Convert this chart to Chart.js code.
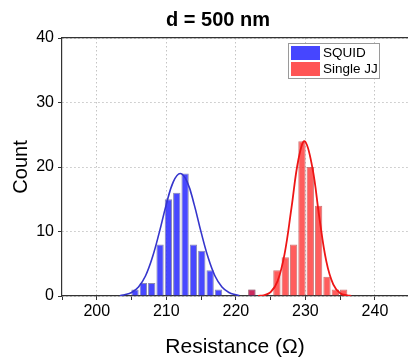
<!DOCTYPE html>
<html>
<head>
<meta charset="utf-8">
<script src="https://cdn.jsdelivr.net/npm/chart.js@4/dist/chart.umd.min.js"></script>
<style>
html,body{margin:0;padding:0;background:#fff;}
#wrap{width:408px;height:360px;}
</style>
</head>
<body>
<div id="wrap"><canvas id="c" width="408" height="360"></canvas></div>
<script>
// ---- data ----
const chartTitle = "d = 500 nm";
const xTitle = "Resistance (Ω)";
const yTitle = "Count";
const seriesNames = ["SQUID", "Single JJ"];

const squidBins   = [205.5, 206.7, 207.9, 209.1, 210.3, 211.5, 212.7, 213.9, 215.1, 216.3, 217.5, 222.3];
const squidCounts = [1, 2, 2, 8, 15, 16, 19, 8, 7, 4, 1, 1];

const jjBins   = [222.3, 225.9, 227.1, 228.3, 229.5, 230.7, 231.9, 233.1, 234.3, 235.5];
const jjCounts = [1, 4, 6, 8, 24, 20, 14, 3, 1, 1];

// fitted curves, points
const squidFitX = [203.3, 204, 205, 206, 207, 208, 209, 210, 211, 212, 213, 214, 215, 216, 217, 218, 219, 220, 220.5];
const squidFitY = [0.05, 0.19, 0.55, 1.4, 3.1, 6.0, 9.9, 14.2, 17.7, 19, 17.7, 14.2, 9.9, 6.0, 3.1, 1.4, 0.55, 0.19, 0.08];

const jjFitX = [223.2, 224, 225, 226, 227, 228, 229, 229.9, 231, 232, 233, 234, 235, 236, 236.6];
const jjFitY = [0.03, 0.11, 0.59, 2.3, 6.5, 13.7, 21.2, 24, 19.9, 12.2, 5.4, 1.8, 0.43, 0.09, 0.02];

const xMin = 195, xMax = 244.75, xStep = 5, xLabelStep = 10;
const yMin = 0, yMax = 40, yStep = 10;

const pairs = (xs, ys) => xs.map((x, i) => ({x: x, y: ys[i]}));

const FONT = "'Liberation Sans', Arial, sans-serif";

const titlePlugin = {
  id: 'figTitle',
  afterDraw(chart) {
    const ctx = chart.ctx;
    ctx.save();
    ctx.font = "bold 20px " + FONT;
    ctx.fillStyle = "#000";
    ctx.textAlign = "center";
    ctx.textBaseline = "alphabetic";
    ctx.fillText(chartTitle, 218, 26);
    ctx.restore();
  }
};

const legendPlugin = {
  id: 'boxLegend',
  afterDraw(chart) {
    const ctx = chart.ctx;
    const items = [
      {name: seriesNames[0], fill: 'rgba(70,70,255,1)'},
      {name: seriesNames[1], fill: 'rgba(255,85,85,1)'}
    ];
    ctx.save();
    ctx.fillStyle = '#fff';
    ctx.fillRect(288.5, 43.5, 91, 35);
    ctx.strokeStyle = '#9a9a9a';
    ctx.lineWidth = 1;
    ctx.strokeRect(288.5, 43.5, 91, 35);
    ctx.font = "13.5px " + FONT;
    ctx.textBaseline = 'middle';
    ctx.textAlign = 'left';
    items.forEach((it, i) => {
      const y = 46 + i * 16;
      ctx.fillStyle = it.fill;
      ctx.fillRect(291, y, 29, 14);
      ctx.fillStyle = '#000';
      ctx.fillText(it.name, 323, y + 7.5);
    });
    ctx.restore();
  }
};

new Chart(document.getElementById('c'), {
  type: 'bar',
  data: {
    datasets: [
      {
        type: 'line', label: seriesNames[0] + ' fit', data: pairs(squidFitX, squidFitY),
        borderColor: '#3535cc', borderWidth: 1.6, pointRadius: 0, tension: 0.4, fill: false, order: 0
      },
      {
        type: 'line', label: seriesNames[1] + ' fit', data: pairs(jjFitX, jjFitY),
        borderColor: '#ee1515', borderWidth: 1.8, pointRadius: 0, tension: 0.4, fill: false, order: 0
      },
      {
        label: seriesNames[1], data: pairs(jjBins, jjCounts),
        backgroundColor: 'rgba(255,30,30,0.72)', borderColor: 'rgba(190,80,80,0.75)', borderWidth: 1,
        grouped: false, barPercentage: 1, categoryPercentage: 0.88, order: 2
      },
      {
        label: seriesNames[0], data: pairs(squidBins, squidCounts),
        backgroundColor: 'rgba(45,45,255,0.87)', borderColor: 'rgba(100,100,150,0.75)', borderWidth: 1,
        grouped: false, barPercentage: 1, categoryPercentage: 0.88, order: 3
      }
    ]
  },
  plugins: [titlePlugin, legendPlugin],
  options: {
    responsive: false,
    animation: false,
    layout: {padding: {top: 38, right: 0, left: 0, bottom: 0}},
    plugins: {legend: {display: false}, title: {display: false}, tooltip: {enabled: false}},
    scales: {
      x: {
        type: 'linear', position: 'bottom', min: xMin, max: xMax, offset: false,
        afterFit: s => { s.height = 64; },
        ticks: {
          stepSize: xStep, autoSkip: false, maxRotation: 0, includeBounds: false,
          font: {family: FONT, size: 16}, color: '#000', padding: 2,
          callback: v => (v % xLabelStep === 0 ? String(v) : '')
        },
        grid: {
          offset: false,
          color: c => (c.tick && c.tick.value % xLabelStep === 0 ? '#c4c4c4' : 'rgba(0,0,0,0)'),
          tickColor: c => (c.tick && c.tick.value % xStep === 0 ? '#333' : 'rgba(0,0,0,0)'),
          tickLength: 4, lineWidth: 1
        },
        border: {display: true, color: '#333', width: 1.2, dash: [1.5, 2.5]},
        title: {display: true, text: xTitle, font: {family: FONT, size: 21}, color: '#000', padding: {top: 0, bottom: 0}}
      },
      x2: {
        type: 'linear', position: 'top', min: xMin, max: xMax,
        afterFit: s => { s.height = 0; },
        ticks: {display: false},
        grid: {display: true, drawOnChartArea: false, drawTicks: false},
        border: {display: true, color: '#333', width: 1.2}
      },
      y: {
        type: 'linear', min: yMin, max: yMax,
        afterFit: s => { s.width = 62; },
        ticks: {stepSize: yStep, font: {family: FONT, size: 16}, color: '#000', padding: 4},
        grid: {color: '#c4c4c4', tickColor: '#333', tickLength: 4, lineWidth: 1},
        border: {display: true, color: '#333', width: 1.2, dash: [1.5, 2.5]},
        title: {display: true, text: yTitle, font: {family: FONT, size: 20}, color: '#000', padding: {top: 9, bottom: 0}}
      }
    }
  }
});
</script>
</body>
</html>
